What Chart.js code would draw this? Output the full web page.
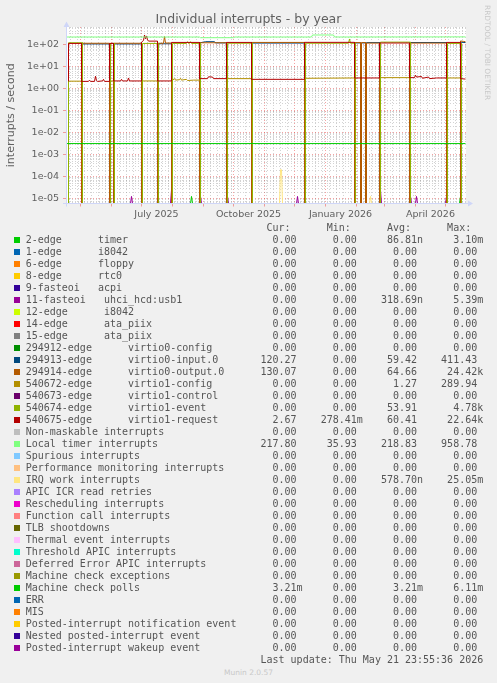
<!DOCTYPE html>
<html>
<head>
<meta charset="utf-8">
<title>Individual interrupts - by year</title>
<script src="https://cdn.jsdelivr.net/npm/chart.js@4.4.1/dist/chart.umd.min.js"></script>
<style>
  html, body { margin: 0; padding: 0; }
  body { width: 497px; height: 683px; background: #f0f0f0; position: relative; overflow: hidden; }
  #graph { position: absolute; left: 0; top: 0; }
  #watermark { position: absolute; left: 483px; top: 5px; writing-mode: vertical-rl; font: 7.4px "DejaVu Sans"; line-height: 9px; color: #c8c8c8; white-space: nowrap; }
  .row { position: absolute; left: 25.7px; font: 10px "DejaVu Sans Mono"; line-height: 12px; color: #555; white-space: pre; }
  .swatch { position: absolute; left: 14px; width: 6px; height: 6px; }
  #version { position: absolute; left: 0; top: 668px; width: 497px; text-align: center; font: 7.5px "DejaVu Sans"; line-height: 9px; color: #c8c8c8; }
</style>
</head>
<body>
<canvas id="graph" width="497" height="230"></canvas>
<div id="watermark">RRDTOOL / TOBI OETIKER</div>
<div id="legend"></div>
<div id="version">Munin 2.0.57</div>
<script>
// x unit = one day counted from 17 Apr 2025 (the png has one pixel per day)
const DAY0 = Date.UTC(2025, 3, 17);
const dayOf = s => (Date.parse(s + 'T00:00:00Z') - DAY0) / 864e5;

const Y_MIN = 6.2e-6, Y_MAX = 610;

const xLabels = ['July 2025', 'October 2025', 'January 2026', 'April 2026'];
const xLabelDates = ['2025-07-16', '2025-10-16', '2026-01-16', '2026-04-16'];
const monthDates = ['2025-05-01', '2025-06-01', '2025-07-01', '2025-08-01', '2025-09-01', '2025-10-01',
  '2025-11-01', '2025-12-01', '2026-01-01', '2026-02-01', '2026-03-01', '2026-04-01', '2026-05-01'];
const firstMonday = '2025-04-21';

const yTickValues = [1e-5, 1e-4, 1e-3, 1e-2, 1e-1, 1, 10, 100];
const yTickLabels = ['1e-05', '1e-04', '1e-03', '1e-02', '1e-01', '1e+00', '1e+01', '1e+02'];

const names = [
  '2-edge      timer', '1-edge      i8042', '6-edge      floppy', '8-edge      rtc0',
  '9-fasteoi   acpi', '11-fasteoi   uhci_hcd:usb1', '12-edge      i8042', '14-edge      ata_piix',
  '15-edge      ata_piix', '294912-edge      virtio0-config', '294913-edge      virtio0-input.0',
  '294914-edge      virtio0-output.0', '540672-edge      virtio1-config', '540673-edge      virtio1-control',
  '540674-edge      virtio1-event', '540675-edge      virtio1-request', 'Non-maskable interrupts',
  'Local timer interrupts', 'Spurious interrupts', 'Performance monitoring interrupts', 'IRQ work interrupts',
  'APIC ICR read retries', 'Rescheduling interrupts', 'Function call interrupts', 'TLB shootdowns',
  'Thermal event interrupts', 'Threshold APIC interrupts', 'Deferred Error APIC interrupts',
  'Machine check exceptions', 'Machine check polls', 'ERR', 'MIS', 'Posted-interrupt notification event',
  'Nested posted-interrupt event', 'Posted-interrupt wakeup event'
];
const colors = [
  '#00CC00', '#0066B3', '#FF8000', '#FFCC00', '#330099', '#990099', '#CCFF00', '#FF0000', '#808080',
  '#008F00', '#00487D', '#B35A00', '#B38F00', '#6B006B', '#8FB300', '#B30000', '#BEBEBE', '#80FF80',
  '#80C9FF', '#FFC080', '#FFE680', '#AA80FF', '#EE00CC', '#FF8080', '#666600', '#FFBFFF', '#00FFCC',
  '#CC6699', '#999900', '#00CC00', '#0066B3', '#FF8000', '#FFCC00', '#330099', '#990099'
];
const Z = '0.00';
const curVals = [Z, Z, Z, Z, Z, Z, Z, Z, Z, Z, '120.27', '130.07', Z, Z, Z, '2.67', Z, '217.80', Z, Z, Z,
  Z, Z, Z, Z, Z, Z, Z, Z, '3.21m', Z, Z, Z, Z, Z];
const minVals = [Z, Z, Z, Z, Z, Z, Z, Z, Z, Z, Z, Z, Z, Z, Z, '278.41m', Z, '35.93', Z, Z, Z,
  Z, Z, Z, Z, Z, Z, Z, Z, Z, Z, Z, Z, Z, Z];
const avgVals = ['86.81n', Z, Z, Z, Z, '318.69n', Z, Z, Z, Z, '59.42', '64.66', '1.27', Z, '53.91', '60.41', Z,
  '218.83', Z, Z, '578.70n', Z, Z, Z, Z, Z, Z, Z, Z, '3.21m', Z, Z, Z, Z, Z];
const maxVals = ['3.10m', Z, Z, Z, Z, '5.39m', Z, Z, Z, Z, '411.43', '24.42k', '289.94', Z, '4.78k', '22.64k', Z,
  '958.78', Z, Z, '25.05m', Z, Z, Z, Z, Z, Z, Z, Z, '6.11m', Z, Z, Z, Z, Z];

// [day, value] pairs, 0 lies on the bottom edge like in rrdtool
const flat0 = [[0, 0], [399, 0]];
const timer = [[0, 0], [124, 0], [125, 1.3e-5], [126, 0], [393, 0], [394, 1.3e-5], [395, 0], [399, 0]];
const uhci = [[0, 0], [64, 0], [65, 1.3e-5], [66, 0], [104, 0], [105, 2.5e-5], [106, 0], [133, 0], [134, 1.3e-5],
  [135, 0], [160, 0], [161, 1.3e-5], [162, 0], [230, 0], [231, 1.3e-5], [232, 0], [313, 0], [314, 2.5e-5], [315, 0],
  [343, 0], [344, 1.3e-5], [345, 0], [349, 0], [350, 1.3e-5], [351, 0], [379, 0], [380, 1.3e-5], [381, 0], [399, 0]];
const virtio0In = [[2, 0], [15, 0], [15, 104], [43, 104], [43, 0], [47, 0], [47, 104], [75, 104], [75, 0],
  [91, 0], [91, 106], [105, 106], [105, 0], [133, 0], [133, 116], [139, 132], [148, 132], [149, 116], [160, 116],
  [160, 0], [185, 0], [185, 114], [238, 114], [238, 0], [288, 0], [288, 116], [294, 116], [294, 0], [295, 0],
  [295, 116], [299, 116], [299, 0], [300, 0], [300, 120], [313, 120], [313, 0], [343, 0], [343, 121], [380, 121],
  [380, 0], [394, 0], [394, 125], [399, 120.27]];
const virtio0Out = [[2, 0], [15, 0], [15, 112], [43, 112], [43, 0], [47, 0], [47, 112], [75, 112], [75, 0],
  [91, 0], [91, 112], [97, 112], [98, 225], [99, 115], [105, 115], [105, 0], [133, 0], [133, 118], [160, 118],
  [160, 0], [185, 0], [185, 122], [238, 122], [238, 0], [288, 0], [288, 120], [294, 120], [294, 0], [295, 0],
  [295, 120], [299, 120], [299, 0], [300, 0], [300, 114], [313, 114], [313, 0], [343, 0], [343, 114], [380, 114],
  [380, 0], [394, 0], [394, 142], [397, 136], [399, 130.07]];
const virtio1Config = [[2, 0], [2, 2.15], [16, 2.15], [16, 0], [44, 0], [44, 2.2], [48, 2.2], [48, 0], [76, 0],
  [76, 2.2], [92, 2.2], [92, 0], [106, 0], [106, 2.4], [108, 2.8], [109, 2.4], [113, 2.5], [114, 2.9], [115, 2.4],
  [120, 2.6], [121, 2.3], [127, 2.4], [134, 2.4], [134, 0], [161, 0], [161, 2.8], [186, 2.8], [186, 0], [239, 0],
  [239, 2.9], [289, 3.0], [289, 0], [314, 0], [314, 3.1], [344, 3.1], [344, 0], [381, 0], [381, 3.0], [395, 3.0],
  [395, 0], [399, 0]];
const virtio1Event = [[2, 0], [2, 118], [16, 118], [16, 0], [44, 0], [44, 110], [48, 110], [48, 0], [76, 0],
  [76, 110], [92, 110], [92, 0], [106, 0], [106, 110], [120, 110], [121, 132], [122, 110], [123, 110], [124, 132],
  [125, 110], [134, 110], [134, 0], [161, 0], [161, 112], [186, 112], [186, 0], [239, 0], [239, 112], [282, 112],
  [283, 175], [284, 112], [289, 112], [289, 0], [314, 0], [314, 126], [344, 126], [344, 0], [381, 0], [381, 110],
  [395, 110], [395, 0], [399, 0]];
const virtio1Request = [[2, 2.1], [2, 110], [15, 110], [15, 2.1], [22, 2.1], [23, 2.4], [24, 2.1], [28, 2.1],
  [29, 3.6], [30, 2.3], [31, 2.1], [36, 2.2], [37, 2.6], [38, 2.1], [43, 2.1], [43, 110], [47, 110], [47, 2.2],
  [54, 2.2], [55, 2.6], [56, 2.2], [61, 2.2], [62, 3.0], [63, 2.2], [75, 2.2], [75, 125], [77, 150], [78, 265],
  [79, 180], [80, 240], [81, 160], [82, 140], [91, 140], [91, 2.2], [105, 2.2], [105, 122], [133, 122], [133, 2.8],
  [141, 2.8], [142, 3.4], [146, 3.3], [147, 2.8], [160, 2.8], [160, 122], [185, 122], [185, 2.6], [238, 2.6],
  [238, 123], [288, 123], [288, 3.0], [313, 3.0], [313, 115], [343, 115], [343, 3.1], [348, 3.1], [349, 4.0],
  [350, 3.3], [355, 3.5], [356, 2.9], [362, 3.3], [363, 2.8], [370, 3.0], [380, 3.0], [380, 122], [394, 122],
  [394, 2.8], [399, 2.67]];
const localTimer = [[0, 215], [133, 215], [134, 200], [167, 200], [168, 215], [245, 215], [246, 265], [267, 265],
  [268, 215], [399, 217.8]];
const irqWork = [[0, 0], [213, 0], [214, 2.1e-4], [215, 2.1e-4], [216, 0], [303, 0], [304, 1.3e-5], [305, 0], [399, 0]];
const mcePolls = [[0, 3.21e-3], [399, 3.21e-3]];

const seriesData = [timer, flat0, flat0, flat0, flat0, uhci, flat0, flat0, flat0, flat0, virtio0In, virtio0Out,
  virtio1Config, flat0, virtio1Event, virtio1Request, flat0, localTimer, flat0, flat0, irqWork, flat0, flat0,
  flat0, flat0, flat0, flat0, flat0, flat0, mcePolls, flat0, flat0, flat0, flat0, flat0];

const GRID = 'rgba(128,128,128,0.35)';
const MGRID = 'rgba(235,70,70,0.5)';
const TEXT = '#606060';

Chart.defaults.font.family = 'DejaVu Sans';

const datasets = seriesData.map((pts, i) => ({
  label: names[i].replace(/\s+/g, ' '),
  data: pts.map(([d, v]) => ({ x: d, y: v > 0 ? v : Y_MIN })),
  borderColor: colors[i],
  backgroundColor: colors[i],
  borderWidth: 1,
  pointRadius: 0,
  fill: false,
  order: -i  // later series on top, as rrdtool draws them
}));

const plotBackground = {
  id: 'plotBackground',
  beforeDraw(chart) {
    const { ctx, chartArea: a } = chart;
    ctx.save();
    ctx.fillStyle = '#ffffff';
    ctx.fillRect(a.left, a.top, a.right - a.left, a.bottom - a.top);
    ctx.restore();
  }
};

// rrdtool axis lines with arrows, drawn over the data
const rrdAxes = {
  id: 'rrdAxes',
  afterDatasetsDraw(chart) {
    const { ctx, chartArea: a } = chart;
    ctx.save();
    ctx.strokeStyle = '#cfd6f8';
    ctx.fillStyle = '#cfd6f8';
    ctx.lineWidth = 1;
    ctx.beginPath();
    ctx.moveTo(a.left - 3, a.bottom);
    ctx.lineTo(a.right + 2, a.bottom);
    ctx.moveTo(a.left + 0.5, a.bottom + 3);
    ctx.lineTo(a.left + 0.5, a.top - 1);
    ctx.stroke();
    ctx.beginPath();
    ctx.moveTo(a.right + 2, a.bottom - 3);
    ctx.lineTo(a.right + 7, a.bottom);
    ctx.lineTo(a.right + 2, a.bottom + 3);
    ctx.closePath();
    ctx.moveTo(a.left - 2.5, a.top);
    ctx.lineTo(a.left + 0.5, a.top - 5.5);
    ctx.lineTo(a.left + 3.5, a.top);
    ctx.closePath();
    ctx.fill();
    ctx.restore();
  }
};

new Chart(document.getElementById('graph'), {
  type: 'line',
  data: { datasets: datasets },
  plugins: [plotBackground, rrdAxes],
  options: {
    responsive: false,
    animation: false,
    devicePixelRatio: 1,
    layout: { padding: 0 },
    elements: { line: { tension: 0 } },
    plugins: {
      legend: { display: false },
      tooltip: { enabled: false },
      title: {
        display: true,
        text: 'Individual interrupts - by year',
        color: TEXT,
        font: { size: 12.5, weight: 'normal', lineHeight: '15px' },
        padding: { top: 12, bottom: 0 }
      }
    },
    scales: {
      x: {
        type: 'linear',
        min: -0.5,
        max: 399.5,
        bounds: 'data',
        afterBuildTicks(scale) {
          const months = monthDates.map(dayOf);
          const ticks = [];
          for (let d = dayOf(firstMonday); d < 400; d += 7) {
            if (!months.includes(d)) ticks.push({ value: d, kind: 'week' });
          }
          months.forEach(d => ticks.push({ value: d, kind: 'month' }));
          xLabelDates.forEach((s, i) => ticks.push({ value: dayOf(s), kind: 'label', text: xLabels[i] }));
          ticks.sort((a, b) => a.value - b.value);
          scale.ticks = ticks;
        },
        afterFit(scale) { scale.height = 26.5; },
        grid: {
          color: c => c.tick && c.tick.kind === 'month' ? MGRID : c.tick && c.tick.kind === 'week' ? GRID : 'rgba(0,0,0,0)',
          tickColor: c => c.tick && c.tick.kind === 'month' ? MGRID : 'rgba(0,0,0,0)',
          tickLength: 3,
          lineWidth: 1
        },
        border: { display: false, dash: [1, 2] },
        ticks: {
          autoSkip: false,
          maxRotation: 0,
          padding: 2,
          color: TEXT,
          font: { size: 9.5 },
          callback: (v, i, ticks) => ticks[i].text || ''
        }
      },
      y: {
        type: 'logarithmic',
        min: Y_MIN,
        max: Y_MAX,
        bounds: 'data',
        afterBuildTicks(scale) {
          const ticks = [];
          for (let e = -6; e <= 2; e++) {
            for (let m = 1; m <= 9; m++) {
              const v = m * Math.pow(10, e);
              if (v > Y_MIN && v < Y_MAX) {
                const k = yTickValues.findIndex(t => Math.abs(t - v) / t < 1e-9);
                ticks.push({ value: v, kind: k >= 0 ? 'decade' : 'minor', text: k >= 0 ? yTickLabels[k] : '' });
              }
            }
          }
          scale.ticks = ticks;
        },
        afterFit(scale) { scale.width = 66; },
        grid: {
          color: c => c.tick && c.tick.kind === 'decade' ? MGRID : GRID,
          tickColor: c => c.tick && c.tick.kind === 'decade' ? MGRID : 'rgba(0,0,0,0)',
          tickLength: 3,
          lineWidth: 1
        },
        border: { display: false, dash: [1, 2] },
        ticks: {
          autoSkip: false,
          padding: 4,
          color: TEXT,
          font: { size: 9.5 },
          callback: (v, i, ticks) => ticks[i].text
        },
        title: {
          display: true,
          text: 'interrupts / second',
          color: TEXT,
          font: { size: 11 },
          padding: { top: 4.6, bottom: 0 }
        }
      },
      yRight: {
        type: 'linear',
        position: 'right',
        display: true,
        grid: { display: false },
        border: { display: false },
        ticks: { display: false },
        afterFit(scale) { scale.width = 31; }
      }
    }
  }
});

// munin style legend table under the graph
const ROW_TOP = 234, ROW_H = 12;
const legendBox = document.getElementById('legend');
function field(s) {
  const m = s.match(/^([0-9.]+)([a-zA-Z]?)$/);
  return m[1].padStart(9) + (m[2] || ' ');
}
function addRow(text, row, color) {
  const el = document.createElement('div');
  el.className = 'row';
  el.style.top = (ROW_TOP + row * ROW_H) + 'px';
  el.textContent = text;
  legendBox.appendChild(el);
  if (color) {
    const sw = document.createElement('div');
    sw.className = 'swatch';
    sw.style.top = (ROW_TOP + row * ROW_H + 3) + 'px';
    sw.style.background = color;
    legendBox.appendChild(sw);
  }
}
addRow(' '.repeat(40) + 'Cur:' + ' '.repeat(6) + 'Min:' + ' '.repeat(6) + 'Avg:' + ' '.repeat(6) + 'Max:', -1);
names.forEach((n, i) => {
  addRow(n.padEnd(36) + field(curVals[i]) + field(minVals[i]) + field(avgVals[i]) + field(maxVals[i]), i, colors[i]);
});
addRow('Last update: Thu May 21 23:55:36 2026'.padStart(76), names.length);
</script>
</body>
</html>
